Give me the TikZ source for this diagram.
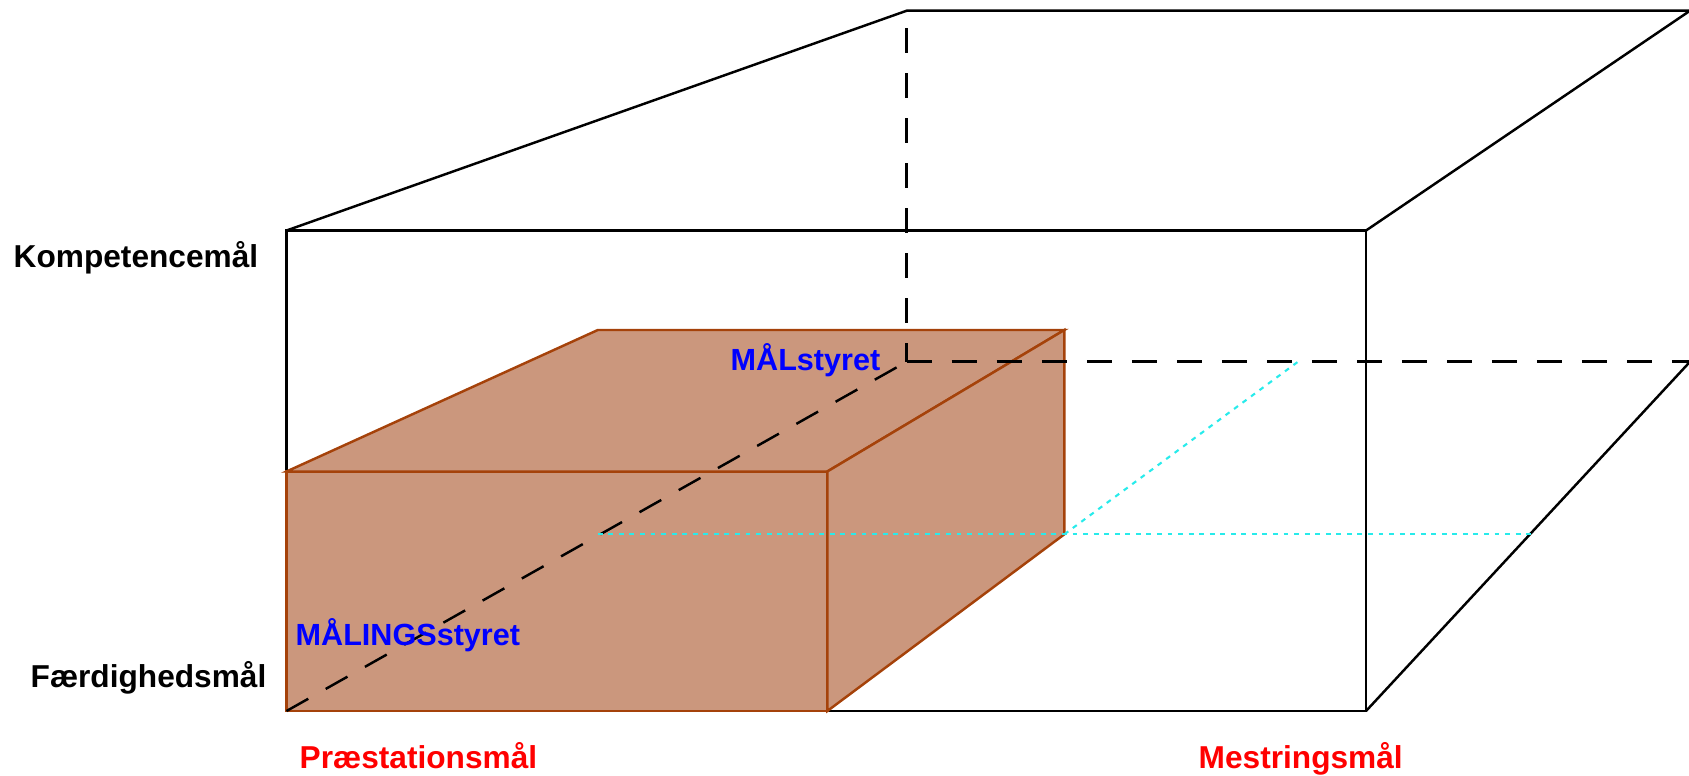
\documentclass[tikz,border=0pt]{standalone}
\usepackage{fontspec}
\setmainfont{Liberation Sans}
\definecolor{boxfill}{RGB}{203,151,125}
\definecolor{boxedge}{RGB}{165,66,10}
\definecolor{hidcyan}{RGB}{40,235,235}
\definecolor{axisred}{RGB}{255,0,0}
\definecolor{modeblue}{RGB}{0,0,255}
\begin{document}
\begin{tikzpicture}[x=0.01cm,y=-0.01cm,
  edge/.style={line width=0.7pt,black},
  hidden/.style={edge,dash pattern=on 7.1pt off 5.7pt},
  boxface/.style={draw=boxedge,fill=boxfill,line width=0.7pt,line join=miter},
  cyanline/.style={hidcyan,line width=0.6pt,dash pattern=on 1.4pt off 1.6pt},
  lab/.style={inner sep=0pt,anchor=base west,font=\fontsize{9pt}{11pt}\selectfont\bfseries},
  axislab/.style={lab,text=axisred},
  modelab/.style={inner sep=0pt,anchor=base west,font=\fontsize{8.7pt}{10pt}\selectfont\bfseries,text=modeblue}]
\useasboundingbox (0,0) rectangle (1689,775);

% outer box corners
\coordinate (FTL) at (286.5,230.5);
\coordinate (FTR) at (1366,230.5);
\coordinate (FBL) at (286.5,711);
\coordinate (FBR) at (1366,711);
\coordinate (BTL) at (906.7,10.7);
\coordinate (BTR) at (1690,10.7);
\coordinate (BBL) at (906.7,361.7);
\coordinate (BBR) at (1690,361.7);

% inner box corners
\coordinate (oFTL) at (286.5,471.5);
\coordinate (oFTR) at (827.3,471.5);
\coordinate (oFBR) at (827.3,711);
\coordinate (oBTL) at (597.8,330);
\coordinate (oBTR) at (1064.3,330);
\coordinate (oBBR) at (1064.3,534.3);
\coordinate (oBBL) at (597.8,534.3);

% points where the hidden cyan lines meet the outer box
\coordinate (cR) at (1531,534.3);
\coordinate (cT) at (1298,361.7);

% outer box, visible edges
\draw[edge] (FTL) -- (FTR) -- (FBR) -- (FBL) -- cycle;
\draw[edge] (FTL) -- (BTL) -- (BTR);
\draw[edge] (FTR) -- (BTR);
\draw[edge] (FBR) -- (BBR);

% inner box
\draw[boxface] (oFTL) -- (oFTR) -- (oFBR) -- (FBL) -- cycle;
\draw[boxface] (oFTL) -- (oBTL) -- (oBTR) -- (oFTR) -- cycle;
\draw[boxface] (oFTR) -- (oBTR) -- (oBBR) -- (oFBR) -- cycle;

% hidden edges of the outer box
\draw[hidden,dash phase=7.8pt] (BTL) -- (BBL);
\draw[hidden] (BBL) -- (BBR);
\draw[hidden] (FBL) -- (BBL);

% hidden edges of the inner box, carried through the outer box
\draw[cyanline] (oBBL) -- (cR);
\draw[cyanline] (oBBR) -- (cT);

% labels
\node[lab] (komp) at (13,267.7) {Kompetencemål};
\node[lab] (faerd) at (30,687) {Færdighedsmål};
\node[axislab] (praest) at (299,768) {Præstationsmål};
\node[axislab] (mestr) at (1198,768) {Mestringsmål};
\node[modelab] (maaling) at (295,645) {MÅLINGSstyret};
\node[modelab] (maal) at (730,370) {MÅLstyret};
\end{tikzpicture}
\end{document}
